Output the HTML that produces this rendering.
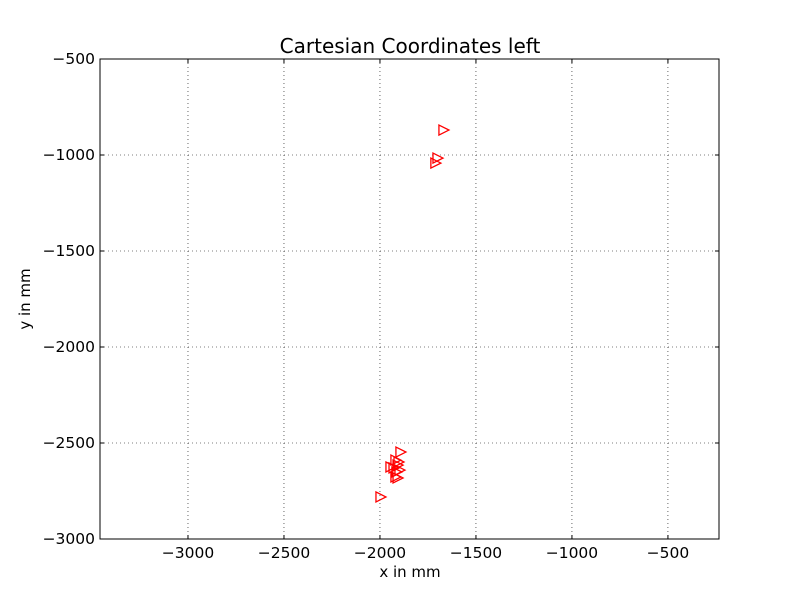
<!DOCTYPE html>
<html><head><meta charset="utf-8"><style>
body{margin:0;background:#fff;}
svg{display:block;font-family:"DejaVu Sans","Liberation Sans",sans-serif;}
</style></head><body>
<svg id="chart" width="800" height="600">
<rect width="800" height="600" fill="#fff"/>
<g id="grid"></g>
<g id="ticks"></g>
<g id="points"></g>
<rect x="100" y="59" width="619" height="480" fill="none" stroke="#000" stroke-width="1"/>
<text x="410" y="53" text-anchor="middle" font-size="20">Cartesian Coordinates left</text>
<text x="410" y="577" text-anchor="middle" font-size="15">x in mm</text>
<text x="30" y="299" text-anchor="middle" font-size="15" transform="rotate(-90 30 299)">y in mm</text>
</svg>
<script>
const xTicks=[-3000,-2500,-2000,-1500,-1000,-500];
const yTicks=[-500,-1000,-1500,-2000,-2500,-3000];
const xValues=[-1672,-1703,-1714,-1896,-1922,-1911,-1932,-1948,-1906,-1917,-1901,-1922,-1911,-2000];
const yValues=[-870,-1016,-1042,-2547,-2589,-2615,-2630,-2625,-2599,-2651,-2641,-2677,-2682,-2781];
const X0=100,X1=719,Y0=59,Y1=539;
const xMin=-3458.3,xMax=-234,yMin=-3000,yMax=-500;
const sx=v=>X0+(v-xMin)/(xMax-xMin)*(X1-X0);
const sy=v=>Y1-(v-yMin)/(yMax-yMin)*(Y1-Y0);
const NS="http://www.w3.org/2000/svg";
const grid=document.getElementById('grid'),ticks=document.getElementById('ticks'),pts=document.getElementById('points');
function mk(tag,attrs,parent){const e=document.createElementNS(NS,tag);for(const k in attrs)e.setAttribute(k,attrs[k]);parent.appendChild(e);return e;}
xTicks.forEach(v=>{const x=sx(v);
 const g=mk('line',{x1:x,x2:x,y1:Y0,y2:Y1,stroke:'#000','stroke-width':0.6,'stroke-dasharray':'1,3'},grid);
 
 
 mk('line',{x1:x,x2:x,y1:Y1,y2:Y1-4,stroke:'#000'},ticks);
 mk('line',{x1:x,x2:x,y1:Y0,y2:Y0+4,stroke:'#000'},ticks);
 const t=mk('text',{x:x,y:558,'text-anchor':'middle','font-size':15.5},ticks);t.textContent='\u2212'+Math.abs(v);
 
 
});
yTicks.forEach(v=>{const y=sy(v);
 const g=mk('line',{x1:X0,x2:X1,y1:y,y2:y,stroke:'#000','stroke-width':0.6,'stroke-dasharray':'1,3'},grid);
 
 
 mk('line',{x1:X0,x2:X0+4,y1:y,y2:y,stroke:'#000'},ticks);
 mk('line',{x1:X1,x2:X1-4,y1:y,y2:y,stroke:'#000'},ticks);
 const t=mk('text',{x:95,y:y+5,'text-anchor':'end','font-size':15.5},ticks);t.textContent='\u2212'+Math.abs(v);
 
 
});
xValues.forEach((v,i)=>{const x=sx(v),y=sy(yValues[i]);
 const p=mk('polygon',{points:`${x-4},${y-5} ${x+6},${y} ${x-4},${y+5}`,fill:'none',stroke:'#f00','stroke-width':1.3},pts);
 
 
});
</script>
</body></html>
